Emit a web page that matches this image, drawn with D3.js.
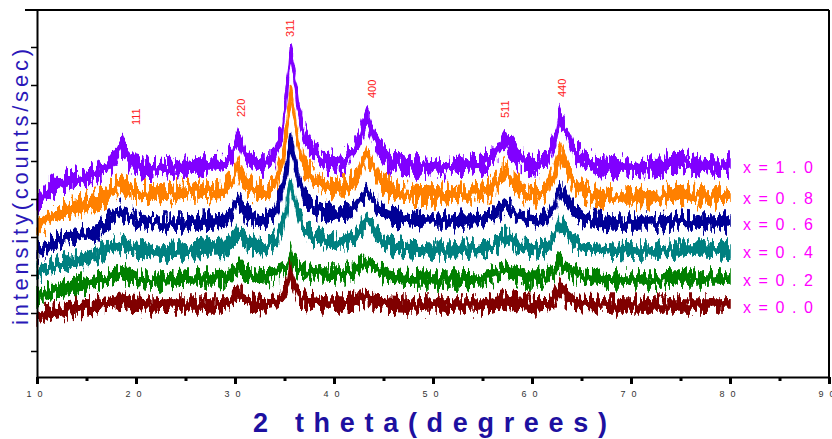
<!DOCTYPE html>
<html>
<head>
<meta charset="utf-8">
<script src="https://cdn.jsdelivr.net/npm/d3@7"></script>
<style>
  body { margin: 0; background: #fff; }
  svg { display: block; }
  text { font-family: "Liberation Sans", Arial, sans-serif; }
</style>
</head>
<body>
<div id="chart"></div>
<script>
// 2 theta positions (degrees) shared by all patterns
const theta = [10, 11, 12, 13, 14, 15, 16, 17, 17.8, 18.5, 19.2, 20, 21, 22, 23, 24, 25, 26, 27, 28,
  29, 29.6, 30.3, 31, 32, 33, 34, 34.8, 35.3, 35.6, 35.9, 36.4, 37, 38, 39, 40, 41, 42, 42.7, 43.3,
  43.9, 44.6, 45.5, 47, 48, 49, 50, 51, 52, 53, 54, 55, 56, 56.5, 57.2, 57.9, 58.6, 59.5, 60.5, 61.5,
  62.2, 62.8, 63.4, 64.2, 65.2, 66.5, 68, 70, 72, 73, 74, 75, 76, 77, 78, 79, 80];

// intensity (counts/sec), stacked patterns
const x10 = [1750, 1850, 1920, 1960, 1980, 2000, 2030, 2090, 2190, 2320, 2190, 2110, 2080, 2070, 2080, 2090, 2100, 2120, 2120, 2120,
  2140, 2220, 2400, 2210, 2140, 2140, 2220, 2490, 2920, 3290, 3070, 2670, 2420, 2250, 2170, 2140, 2150, 2250, 2420, 2590,
  2440, 2270, 2170, 2120, 2110, 2110, 2100, 2100, 2110, 2120, 2120, 2140, 2190, 2270, 2390, 2290, 2190, 2130, 2120, 2170,
  2320, 2600, 2470, 2270, 2170, 2120, 2100, 2100, 2090, 2100, 2170, 2160, 2140, 2130, 2120, 2120, 2120];
const x08 = [1490, 1570, 1630, 1670, 1700, 1730, 1760, 1810, 1890, 1940, 1890, 1850, 1840, 1830, 1840, 1850, 1860, 1870, 1870, 1860,
  1870, 1940, 2100, 1950, 1870, 1850, 1920, 2170, 2520, 2840, 2670, 2320, 2120, 1970, 1910, 1890, 1890, 1950, 2090, 2230,
  2110, 1970, 1890, 1840, 1830, 1820, 1820, 1820, 1830, 1840, 1840, 1850, 1890, 1950, 2060, 1980, 1900, 1840, 1830, 1880,
  2020, 2250, 2120, 1950, 1870, 1820, 1800, 1800, 1790, 1800, 1840, 1830, 1820, 1810, 1810, 1810, 1810];
const x06 = [1250, 1310, 1350, 1390, 1410, 1430, 1460, 1530, 1620, 1670, 1620, 1570, 1550, 1540, 1540, 1540, 1540, 1550, 1560, 1560,
  1570, 1640, 1770, 1650, 1580, 1570, 1650, 1870, 2120, 2380, 2220, 1970, 1810, 1700, 1650, 1630, 1630, 1680, 1770, 1870,
  1780, 1680, 1620, 1580, 1570, 1560, 1560, 1560, 1560, 1570, 1570, 1580, 1610, 1650, 1720, 1670, 1610, 1570, 1560, 1600,
  1710, 1890, 1790, 1660, 1590, 1560, 1540, 1540, 1540, 1540, 1560, 1560, 1550, 1550, 1550, 1550, 1550];
const x04 = [1040, 1080, 1110, 1150, 1170, 1190, 1220, 1270, 1310, 1340, 1310, 1280, 1260, 1250, 1250, 1260, 1260, 1280, 1290, 1290,
  1300, 1350, 1450, 1360, 1310, 1300, 1360, 1510, 1720, 1950, 1810, 1620, 1490, 1400, 1370, 1350, 1350, 1390, 1470, 1570,
  1490, 1390, 1330, 1290, 1280, 1270, 1270, 1270, 1270, 1280, 1280, 1290, 1310, 1340, 1410, 1360, 1320, 1290, 1280, 1310,
  1400, 1550, 1470, 1360, 1310, 1280, 1270, 1260, 1260, 1260, 1270, 1270, 1270, 1270, 1270, 1270, 1270];
const x02 = [810, 840, 870, 900, 920, 940, 960, 990, 1020, 1050, 1020, 990, 970, 970, 970, 980, 990, 990, 990, 990,
  1000, 1030, 1110, 1040, 1010, 1000, 1030, 1090, 1110, 1220, 1130, 1090, 1060, 1040, 1040, 1040, 1040, 1060, 1100, 1150,
  1110, 1060, 1020, 990, 980, 980, 980, 980, 980, 980, 990, 990, 1010, 1030, 1090, 1050, 1020, 990, 990, 1010,
  1060, 1160, 1100, 1040, 1010, 990, 980, 980, 980, 980, 990, 990, 990, 990, 990, 990, 990];
const x00 = [590, 630, 660, 680, 690, 700, 710, 730, 750, 770, 750, 730, 720, 720, 720, 720, 720, 720, 720, 720,
  720, 750, 850, 760, 730, 720, 740, 800, 920, 1070, 930, 820, 770, 750, 740, 740, 740, 750, 780, 820,
  780, 750, 730, 720, 720, 720, 720, 720, 720, 720, 720, 720, 730, 750, 780, 760, 740, 730, 720, 730,
  780, 910, 810, 750, 730, 720, 720, 720, 720, 720, 720, 720, 720, 720, 720, 720, 720];

const seriesLabels = ["x = 1 . 0", "x = 0 . 8", "x = 0 . 6", "x = 0 . 4", "x = 0 . 2", "x = 0 . 0"];
const seriesValues = [x10, x08, x06, x04, x02, x00];
const seriesColors = ["#8000ff", "#ff8000", "#000096", "#008080", "#008000", "#800000"];

// hkl reflections marked above the top pattern
const peakLabels = ["111", "220", "311", "400", "511", "440"];
const peakTheta = [20.0, 30.6, 35.6, 43.8, 57.3, 63.0];

const xMajor = [10, 20, 30, 40, 50, 60, 70, 80, 90];
const xMinor = [15, 25, 35, 45, 55, 65, 75, 85];
const yTicks = [260, 640, 1020, 1400, 1780, 2160, 2540, 2920, 3300];

const width = 832, height = 439;

const svg = d3.select("#chart").append("svg")
    .attr("width", width)
    .attr("height", height);

const x = d3.scaleLinear().domain([10, 90]).range([37, 829]);
const y = d3.scaleLinear().domain([0, 3670]).range([377, 10]);

// jagged noise look for the measured bands
const defs = svg.append("defs");
seriesColors.forEach((c, i) => {
    const f = defs.append("filter")
        .attr("id", "jag" + i)
        .attr("x", "-2%").attr("y", "-60%")
        .attr("width", "104%").attr("height", "220%")
        .attr("color-interpolation-filters", "sRGB");
    f.append("feTurbulence")
        .attr("type", "fractalNoise")
        .attr("baseFrequency", "0.32 0.06")
        .attr("numOctaves", 2)
        .attr("seed", i * 7 + 3)
        .attr("result", "t");
    f.append("feColorMatrix")
        .attr("in", "t")
        .attr("type", "matrix")
        .attr("values", "0 0 0 0 0.5  0 2.2 0 0 -0.6  0 0 0 0 0  0 0 0 0 1")
        .attr("result", "m");
    f.append("feDisplacementMap")
        .attr("in", "SourceGraphic")
        .attr("in2", "m")
        .attr("scale", i < 2 ? 15 : 13)
        .attr("xChannelSelector", "R")
        .attr("yChannelSelector", "G");
});

// patterns, top one first so lower ones sit over it
seriesValues.forEach((vals, i) => {
    const half = i < 2 ? 7 : 6;
    const area = d3.area()
        .x(d => x(d[0]))
        .y0(d => y(d[1]) + half)
        .y1(d => y(d[1]) - half);
    const pts = theta.map((t, j) => [t, vals[j]]);
    svg.append("path")
        .datum(pts)
        .attr("d", area)
        .attr("fill", seriesColors[i])
        .attr("stroke", seriesColors[i])
        .attr("stroke-width", 1.5)
        .attr("filter", `url(#jag${i})`);
});

// legend labels at the right end of each pattern
seriesValues.forEach((vals, i) => {
    svg.append("text")
        .attr("x", x(80) + 13)
        .attr("y", y(vals[vals.length - 1]) + 8)
        .attr("fill", "#ff00ff")
        .attr("font-size", 16)
        .attr("textLength", 70)
        .attr("lengthAdjust", "spacing")
        .text(seriesLabels[i]);
});

// peak labels
peakTheta.forEach((t, i) => {
    const near = theta.map((tt, j) => [tt, x10[j]]).filter(d => Math.abs(d[0] - t) <= 1.6);
    const top = d3.max(near, d => d[1]);
    const yb = Math.max(y(top) - 20, 37);
    svg.append("text")
        .attr("transform", `translate(${x(t) + 4},${yb}) rotate(-90)`)
        .attr("fill", "#ff2020")
        .attr("font-size", 11)
        .text(peakLabels[i]);
});

// axes
const xAxis = svg.append("g")
    .attr("transform", `translate(0,${y(0)})`)
    .call(d3.axisBottom(x).tickValues(xMajor).tickSize(7).tickSizeOuter(0)
        .tickFormat(d3.format("d")));
xAxis.select(".domain").attr("stroke-width", 2);
xAxis.selectAll(".tick line").attr("stroke-width", 3);
xAxis.selectAll(".tick text")
    .attr("font-size", 9)
    .attr("fill", "#333")
    .attr("dy", "1.1em")
    .attr("letter-spacing", "6px");

svg.append("g")
    .attr("transform", `translate(0,${y(0)})`)
    .call(d3.axisBottom(x).tickValues(xMinor).tickSize(4).tickFormat(""))
    .call(g => g.select(".domain").remove())
    .selectAll(".tick line").attr("stroke-width", 3);

const yAxis = svg.append("g")
    .attr("transform", `translate(${x(10)},0)`)
    .call(d3.axisLeft(y).tickValues(yTicks).tickSize(6).tickSizeOuter(0).tickFormat(""));
yAxis.select(".domain").attr("stroke-width", 2);
yAxis.selectAll(".tick line").attr("stroke-width", 1.5);

// frame top and right
svg.append("line")
    .attr("x1", 25).attr("x2", x(90))
    .attr("y1", y(3670)).attr("y2", y(3670))
    .attr("stroke", "#000").attr("stroke-width", 2);
svg.append("line")
    .attr("x1", x(90)).attr("x2", x(90))
    .attr("y1", y(3670)).attr("y2", y(0))
    .attr("stroke", "#000").attr("stroke-width", 2);

// axis titles
svg.append("text")
    .attr("x", 430)
    .attr("y", 432)
    .attr("text-anchor", "middle")
    .attr("font-size", 27)
    .attr("font-weight", "bold")
    .attr("fill", "#1d10a0")
    .attr("textLength", 354)
    .attr("lengthAdjust", "spacing")
    .text("2 theta(degrees)");

svg.append("text")
    .attr("transform", "translate(28,187) rotate(-90)")
    .attr("text-anchor", "middle")
    .attr("font-size", 22)
    .attr("fill", "#2a18b8")
    .attr("textLength", 276)
    .attr("lengthAdjust", "spacing")
    .text("intensity(counts/sec)");
</script>
</body>
</html>
